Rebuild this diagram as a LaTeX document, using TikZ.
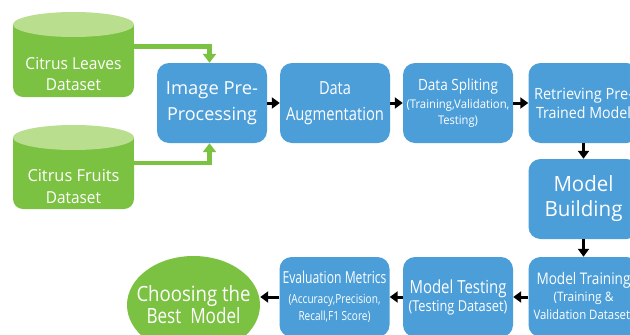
\documentclass[tikz,border=0pt]{standalone}
\usepackage{fontspec}
\setmainfont{Open Sans}
\usepackage{graphicx}
\usetikzlibrary{arrows.meta,shapes.geometric,calc}
\definecolor{boxblue}{RGB}{76,158,217}
\definecolor{gbody}{RGB}{124,194,66}
\definecolor{gtop}{RGB}{185,222,142}
\newcommand\tline[4]{\baselineskip=#3pt\hbox to 0pt{\hss\resizebox{#1pt}{\height}{\fontsize{#2pt}{#2pt}\selectfont #4}\hss}}
\newcommand\tblock[1]{\vbox{\lineskiplimit=-1000pt\lineskip=0pt #1}}
\tikzset{
  bbox/.style={fill=boxblue, rounded corners=12pt, minimum width=110pt, minimum height=80pt, inner sep=0pt, text=white},
  goal/.style={ellipse, fill=gbody, minimum width=133pt, minimum height=98pt, inner sep=0pt, text=white},
  txt/.style={text=white, inner sep=0pt},
  flow/.style={-{Triangle[length=8pt,width=11pt]}, line width=3pt, black},
  gflow/.style={-{Triangle[length=9pt,width=13pt]}, line width=4.5pt, gbody},
}
\begin{document}
\begin{tikzpicture}[x=1pt,y=-1pt]
\useasboundingbox (0,0) rectangle (630,335);
\clip (0,0) rectangle (630,335);
\fill[white] (0,0) rectangle (630,335);
% cylinders
\fill[gbody] (13,24.5) rectangle (134,60);
\fill[gbody, rounded corners=10pt] (13,40) rectangle (134,97);
\fill[gtop] (73.5,24.5) ellipse [x radius=60.5pt, y radius=12.5pt];
\fill[gbody] (13,137.5) rectangle (134,175);
\fill[gbody, rounded corners=10pt] (13,150) rectangle (134,209);
\fill[gtop] (73.5,137.5) ellipse [x radius=60.5pt, y radius=12.5pt];
\node[txt] (leaves) at (73.5,74) {\tblock{\tline{96}{16.5}{0}{Citrus Leaves}\tline{55}{16.5}{21}{Dataset}}};
\node[txt] (fruits) at (73.5,187) {\tblock{\tline{92}{16.5}{0}{Citrus Fruits}\tline{55}{16.5}{22}{Dataset}}};
\coordinate (leavesR) at (134,46.5);
\coordinate (fruitsR) at (134,163);
% boxes
\node[bbox] (img) at (212,103) {\tblock{\tline{92}{18}{0}{Image Pre-}\tline{90}{18}{26}{Processing}}};
\node[bbox] (aug) at (335,103) {\tblock{\tline{32}{18}{0}{Data}\tline{98}{18}{26}{Augmentation}}};
\node[bbox] (split) at (458,103) {\tblock{\tline{80}{15.5}{0}{Data Spliting}\tline{103}{12}{18}{(Training,Validation,}\tline{40}{12}{15.5}{Testing)}}};
\node[bbox] (ret) at (583.5,103) {\tblock{\tline{99}{15.5}{0}{Retrieving Pre-}\tline{95}{15.5}{19}{Trained Model}}};
\node[bbox] (build) at (583.5,199) {\tblock{\tline{60}{21}{0}{Model}\tline{78}{21}{25}{Building}}};
\node[bbox] (train) at (583.5,297) {\tblock{\tline{94}{16}{0}{Model Training}\tline{60}{13}{17}{(Training \&}\tline{100}{13}{18}{Validation Dataset)}}};
\node[bbox] (test) at (458,297) {\tblock{\tline{97}{18}{0}{Model Testing}\tline{99}{15}{18}{(Testing Dataset)}}};
\node[bbox] (eval) at (334.5,297) {\tblock{\tline{104}{16.5}{0}{Evaluation Metrics}\tline{92}{12.5}{20}{(Accuracy,Precision,}\tline{72}{12.5}{17}{Recall,F1 Score)}}};
\node[goal] (best) at (193.5,305) {\tblock{\tline{114}{21}{0}{Choosing the}\tline{94}{21}{22}{Best\ \ Model}}};
% connectors
\draw[gflow] (leavesR) -| ([xshift=-2.5pt]img.north);
\draw[gflow] (fruitsR) -| ([xshift=-2.5pt]img.south);
\draw[flow] (img) -- (aug);
\draw[flow] (aug) -- (split);
\draw[flow] (split) -- (ret);
\draw[flow] (ret) -- (build);
\draw[flow] (build) -- (train);
\draw[flow] (train) -- (test);
\draw[flow] (test) -- (eval);
\draw[flow] (eval.west) -- (eval.west -| best.east);
\end{tikzpicture}
\end{document}
